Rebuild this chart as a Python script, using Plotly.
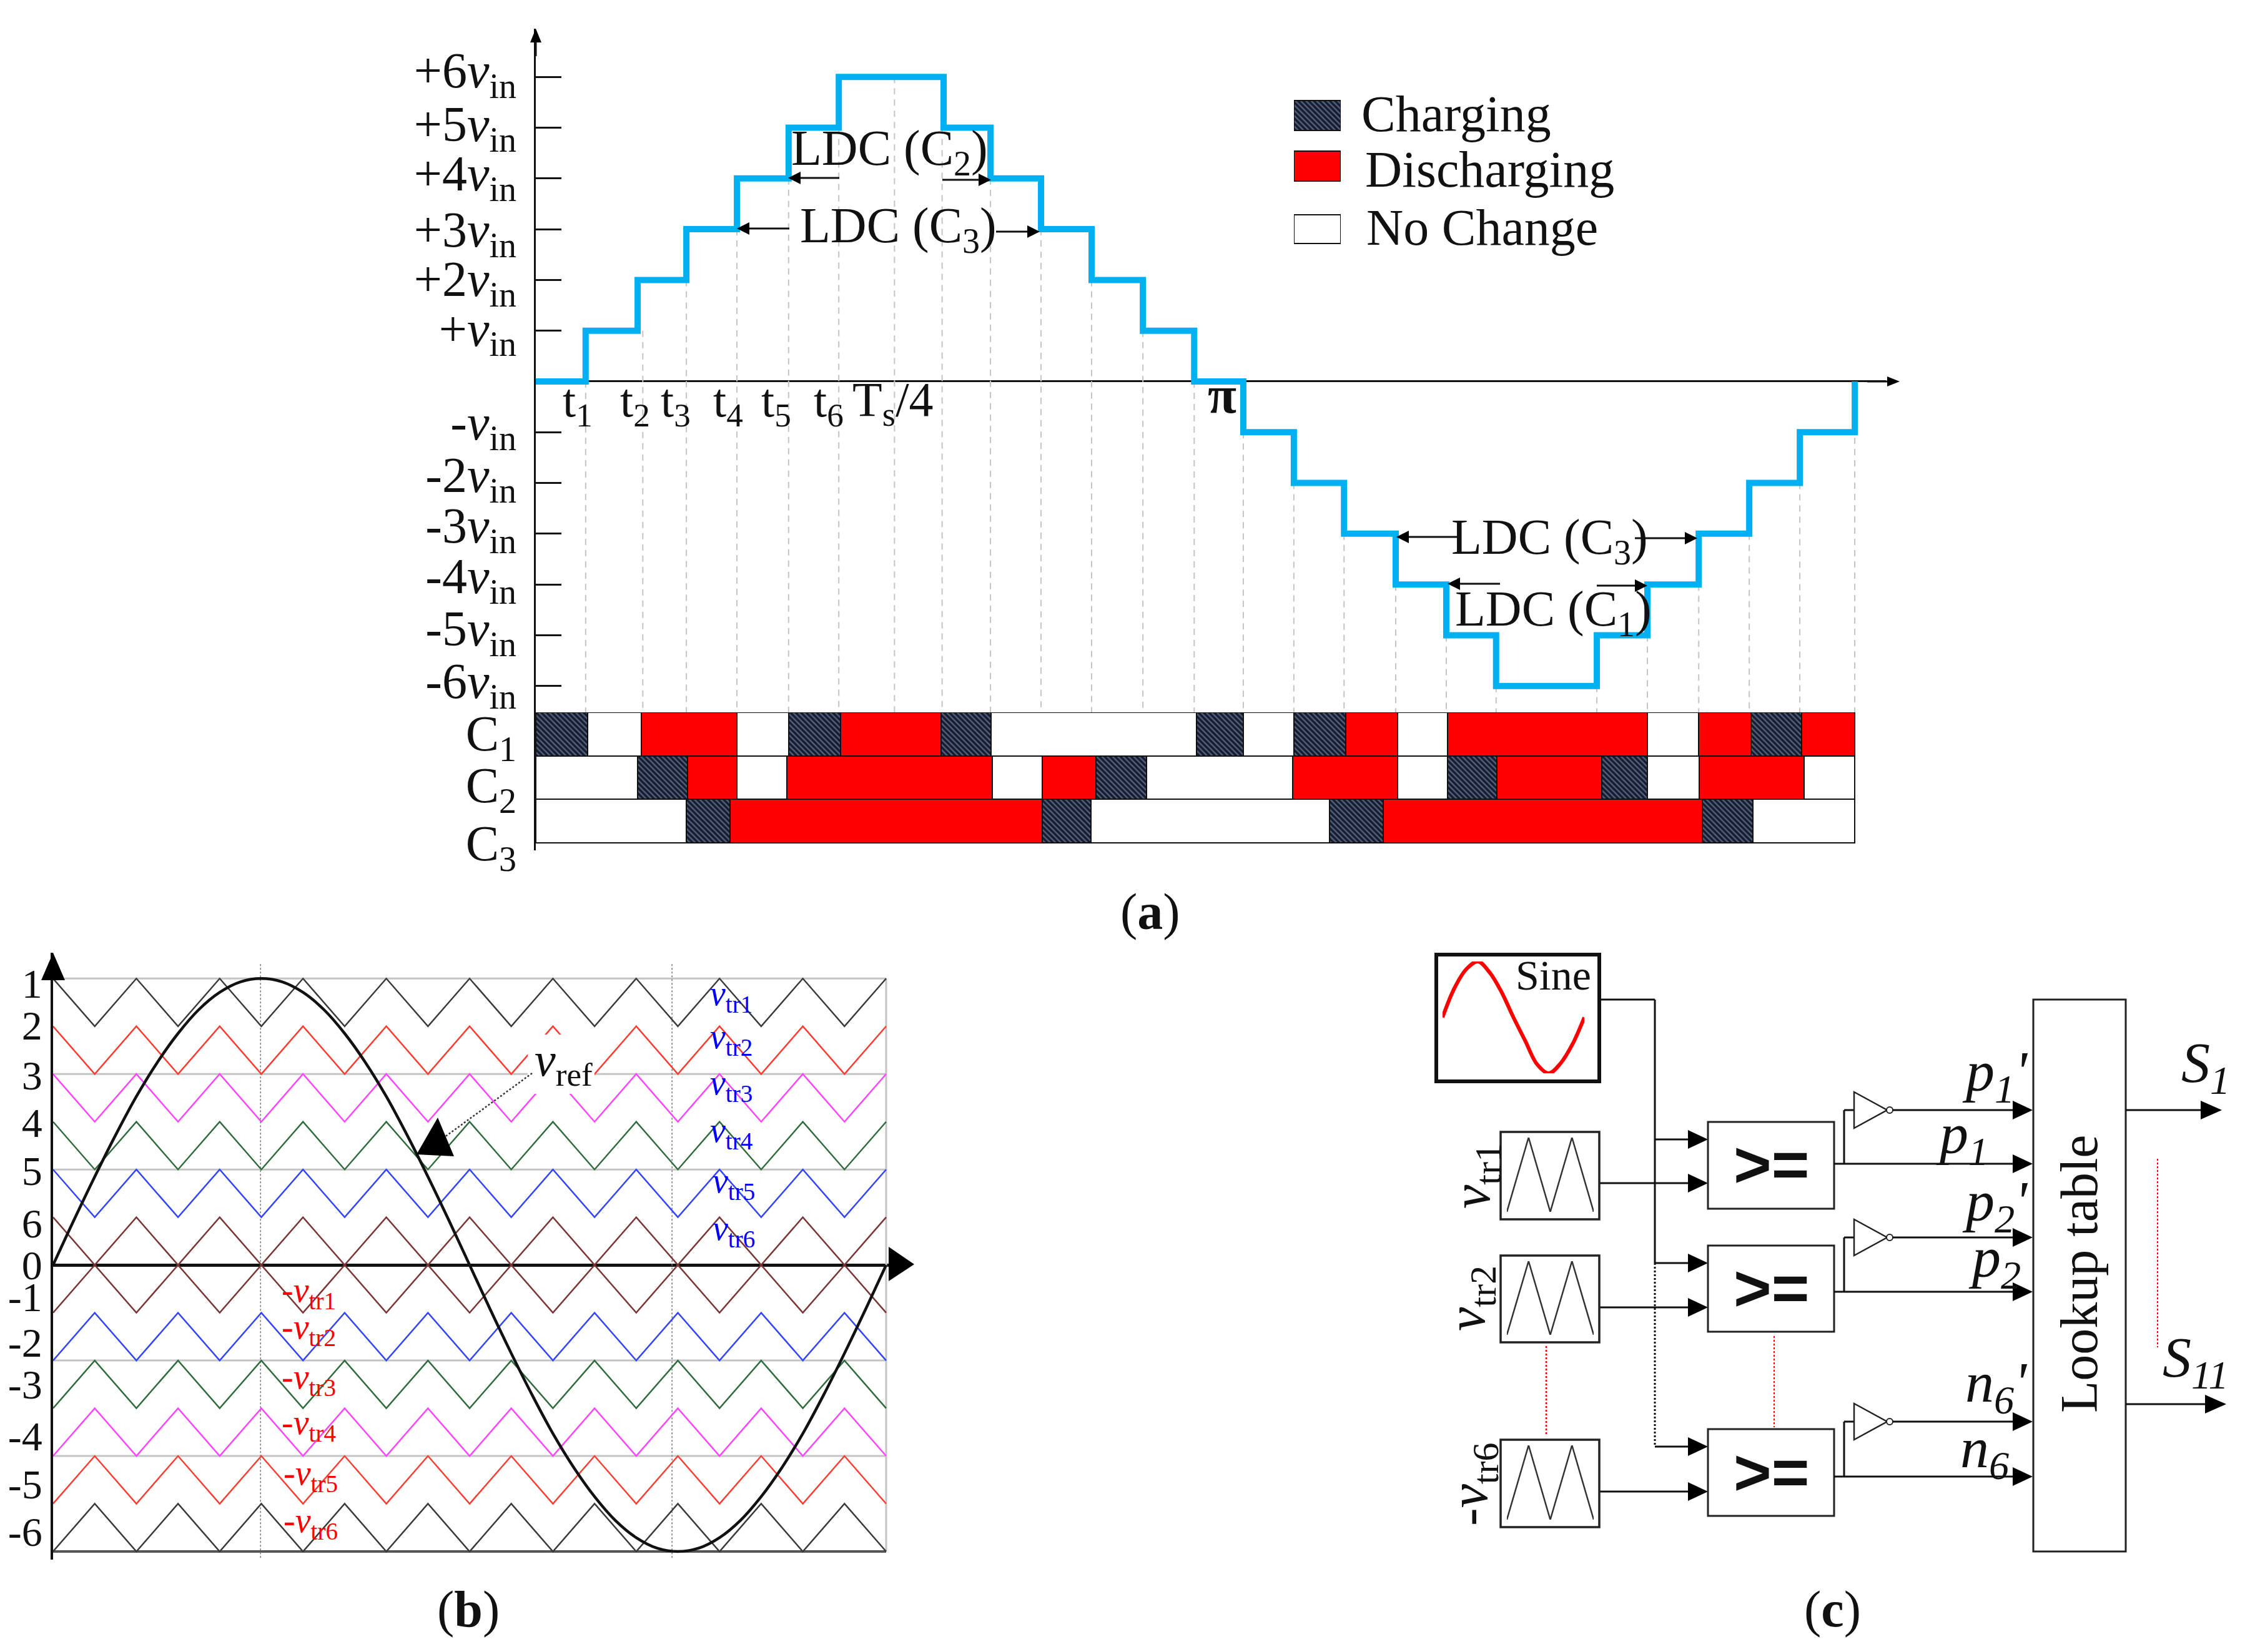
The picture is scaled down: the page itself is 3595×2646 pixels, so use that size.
import plotly.graph_objects as go

W, H = 3595, 2646
SERIF = "Liberation Serif"

# ---------- panel (a) data ----------
level_ticks = [6, 5, 4, 3, 2, 1, -1, -2, -3, -4, -5, -6]
level_label_pos = [6.14, 5.08, 4.11, 3.0, 2.03, 1.05, -0.8, -1.83, -2.83, -3.83, -4.86, -5.89]
level_labels = ["+6", "+5", "+4", "+3", "+2", "+", "-", "-2", "-3", "-4", "-5", "-6"]
stair_t = [0, 13.6, 27.8, 41.1, 54.9, 69.0, 82.7, 111.3, 124.1, 137.9, 151.7, 165.7, 179.7,
           193.1, 206.9, 220.6, 234.7, 248.5, 262.1, 289.6, 303.4, 317.4, 331.2, 345.0, 360]
stair_v = [0, 1, 2, 3, 4, 5, 6, 5, 4, 3, 2, 1, 0, -1, -2, -3, -4, -5, -6, -5, -4, -3, -2, -1, 0]
drop_t = [13.6, 29.2, 41.1, 54.9, 69.0, 82.7, 97.9, 110.9, 124.1, 137.9, 151.7, 165.7, 179.7,
          193.1, 206.9, 220.6, 234.7, 248.5, 262.1, 289.6, 303.4, 317.4, 331.2, 345.0, 360]
drop_v = [0, 1, 2, 3, 4, 5, 6, 5, 4, 3, 2, 1, 0, -1, -2, -3, -4, -5, -6, -6, -5, -4, -3, -2, 0]

C1_edges = [0, 14.1, 28.8, 54.9, 69.0, 83.2, 110.6, 124.3, 180.3, 193.1, 206.9, 221.1, 235.2,
            248.9, 303.4, 317.4, 331.7, 345.5, 360]
C1_state = ["c", "n", "d", "n", "c", "d", "c", "n", "c", "n", "c", "d", "n", "d", "n", "d", "c", "d"]
C2_edges = [0, 27.8, 41.4, 54.9, 68.5, 124.6, 138.2, 152.9, 166.7, 206.6, 235.2, 248.9, 262.3,
            291.0, 303.4, 317.5, 346.2, 360]
C2_state = ["n", "c", "d", "n", "d", "n", "d", "c", "n", "d", "n", "c", "d", "c", "n", "d", "n"]
C3_edges = [0, 41.1, 53.0, 138.2, 151.5, 216.6, 231.3, 318.4, 332.2, 360]
C3_state = ["n", "c", "d", "c", "n", "c", "d", "c", "n"]
legend_names = ["Charging", "Discharging", "No Change"]

# ---------- panel (b) data ----------
carrier_t = [0, 1, 2, 3, 4, 5, 6, 7, 8, 9, 10, 11, 12, 13, 14, 15, 16, 17, 18, 19, 20]
vtr1 = [6, 5, 6, 5, 6, 5, 6, 5, 6, 5, 6, 5, 6, 5, 6, 5, 6, 5, 6, 5, 6]
vtr2 = [5, 4, 5, 4, 5, 4, 5, 4, 5, 4, 5, 4, 5, 4, 5, 4, 5, 4, 5, 4, 5]
vtr3 = [4, 3, 4, 3, 4, 3, 4, 3, 4, 3, 4, 3, 4, 3, 4, 3, 4, 3, 4, 3, 4]
vtr4 = [3, 2, 3, 2, 3, 2, 3, 2, 3, 2, 3, 2, 3, 2, 3, 2, 3, 2, 3, 2, 3]
vtr5 = [2, 1, 2, 1, 2, 1, 2, 1, 2, 1, 2, 1, 2, 1, 2, 1, 2, 1, 2, 1, 2]
vtr6 = [1, 0, 1, 0, 1, 0, 1, 0, 1, 0, 1, 0, 1, 0, 1, 0, 1, 0, 1, 0, 1]
ntr1 = [-1, 0, -1, 0, -1, 0, -1, 0, -1, 0, -1, 0, -1, 0, -1, 0, -1, 0, -1, 0, -1]
ntr2 = [-2, -1, -2, -1, -2, -1, -2, -1, -2, -1, -2, -1, -2, -1, -2, -1, -2, -1, -2, -1, -2]
ntr3 = [-3, -2, -3, -2, -3, -2, -3, -2, -3, -2, -3, -2, -3, -2, -3, -2, -3, -2, -3, -2, -3]
ntr4 = [-4, -3, -4, -3, -4, -3, -4, -3, -4, -3, -4, -3, -4, -3, -4, -3, -4, -3, -4, -3, -4]
ntr5 = [-5, -4, -5, -4, -5, -4, -5, -4, -5, -4, -5, -4, -5, -4, -5, -4, -5, -4, -5, -4, -5]
ntr6 = [-6, -5, -6, -5, -6, -5, -6, -5, -6, -5, -6, -5, -6, -5, -6, -5, -6, -5, -6, -5, -6]
ref_t = [0, 0.5, 1, 1.5, 2, 2.5, 3, 3.5, 4, 4.5, 5, 5.5, 6, 6.5, 7, 7.5, 8, 8.5, 9, 9.5, 10,
         10.5, 11, 11.5, 12, 12.5, 13, 13.5, 14, 14.5, 15, 15.5, 16, 16.5, 17, 17.5, 18, 18.5, 19, 19.5, 20]
vref = [0, 0.94, 1.85, 2.72, 3.53, 4.24, 4.85, 5.35, 5.71, 5.93, 6, 5.93, 5.71, 5.35, 4.85, 4.24,
        3.53, 2.72, 1.85, 0.94, 0, -0.94, -1.85, -2.72, -3.53, -4.24, -4.85, -5.35, -5.71, -5.93,
        -6, -5.93, -5.71, -5.35, -4.85, -4.24, -3.53, -2.72, -1.85, -0.94, 0]
b_tick_pos = [5.9, 5.02, 3.98, 2.98, 1.98, 0.88, 0, -0.66, -1.62, -2.5, -3.58, -4.58, -5.58]
b_tick_txt = ["1", "2", "3", "4", "5", "6", "0", "-1", "-2", "-3", "-4", "-5", "-6"]
carriers = [(vtr1, "#3a3a3a"), (vtr2, "#ff3b30"), (vtr3, "#ff44ff"), (vtr4, "#2f6b3c"),
            (vtr5, "#3344ff"), (vtr6, "#7a3535"), (ntr1, "#7a3535"), (ntr2, "#3344ff"),
            (ntr3, "#2f6b3c"), (ntr4, "#ff44ff"), (ntr5, "#ff3b30"), (ntr6, "#3a3a3a")]

# ---------- panel (c) data ----------
sine_deg = [0, 30, 60, 90, 120, 150, 180, 210, 240, 270, 300, 330, 360]
sine_val = [0, 0.52, 0.86, 1, 0.8, 0.45, 0, -0.42, -0.84, -1, -0.82, -0.48, 0]
block_t = [0, 1, 2, 3, 4]
block_v = [0, 1, 0, 1, 0]


def fx(px):
    return px / W


def fy(py):
    return 1 - py / H


fig = go.Figure()
FILL = {
    "c": dict(color="#2b3650", pattern=dict(shape="\\", fgcolor="#141c30", bgcolor="#56617a", size=6, solidity=0.6)),
    "d": dict(color="#ff0000"),
    "n": dict(color="#ffffff"),
}


def bar_kwargs(state):
    m = dict(FILL[state])
    m["line"] = dict(color="#111111", width=2)
    return m


# dashed drop lines
dx, dy = [], []
for t, v in zip(drop_t, drop_v):
    dx += [t, t, None]
    dy += [v, -6.52, None]
fig.add_trace(go.Scatter(x=dx, y=dy, mode="lines", line=dict(color="#c4c4c4", width=2, dash="10px,8px"),
                         xaxis="x", yaxis="y", showlegend=False))
fig.add_trace(go.Scatter(x=stair_t, y=stair_v, mode="lines", line=dict(color="#00b0f0", width=10, shape="hv"),
                         xaxis="x", yaxis="y", name="stair", showlegend=False))

# state bars
for row, (edges, states) in zip([2, 1, 0], [(C1_edges, C1_state), (C2_edges, C2_state), (C3_edges, C3_state)]):
    for st in ["n", "c", "d"]:
        idx = [i for i, s in enumerate(states) if s == st]
        fig.add_trace(go.Bar(orientation="h", y=[row] * len(idx),
                             base=[edges[i] for i in idx],
                             x=[edges[i + 1] - edges[i] for i in idx],
                             width=1, marker=bar_kwargs(st), cliponaxis=False,
                             xaxis="x2", yaxis="y2", showlegend=False))

# legend swatches
for st, centre, th in zip(["c", "d", "n"], [185, 266, 367], [48, 48, 46]):
    fig.add_trace(go.Bar(orientation="h", y=[centre], x=[1], base=[0], width=th, marker=bar_kwargs(st),
                         cliponaxis=False, xaxis="x4", yaxis="y4", showlegend=False))

# panel b
fig.add_trace(go.Scatter(x=[0, 20, None, 0, 20, None, 0, 20, None, 0, 20, None, 0, 20, None, 20, 20],
                         y=[6, 6, None, 4, 4, None, 2, 2, None, -2, -2, None, -4, -4, None, 6, -6],
                         mode="lines", line=dict(color="#c4c4c4", width=3), xaxis="x3", yaxis="y3", showlegend=False))
fig.add_trace(go.Scatter(x=[0, 20], y=[-6, -6], mode="lines", line=dict(color="#555555", width=4),
                         xaxis="x3", yaxis="y3", showlegend=False))
fig.add_trace(go.Scatter(x=[4.98, 4.98, None, 14.86, 14.86], y=[6.3, -6.17, None, 6.3, -6.17], mode="lines",
                         line=dict(color="#777777", width=1.5, dash="3px,3px"), xaxis="x3", yaxis="y3", showlegend=False))
for vals, col in carriers:
    fig.add_trace(go.Scatter(x=carrier_t, y=vals, mode="lines", line=dict(color=col, width=2.5),
                             xaxis="x3", yaxis="y3", showlegend=False))
fig.add_trace(go.Scatter(x=ref_t, y=vref, mode="lines", line=dict(color="#111111", width=4.5, shape="spline"),
                         xaxis="x3", yaxis="y3", showlegend=False))

# panel c inner axes
fig.add_trace(go.Scatter(x=sine_deg, y=sine_val, mode="lines", line=dict(color="#ff0000", width=6, shape="spline"),
                         xaxis="x5", yaxis="y5", showlegend=False))
for n in (6, 7, 8):
    fig.add_trace(go.Scatter(x=block_t, y=block_v, mode="lines", line=dict(color="#333333", width=2.5),
                             xaxis=f"x{n}", yaxis=f"y{n}", showlegend=False))

shapes, ann = [], []


def line(x0, y0, x1, y1, color="#111111", w=3, dash=None):
    d = dict(color=color, width=w)
    if dash:
        d["dash"] = dash
    shapes.append(dict(type="line", xref="paper", yref="paper", x0=fx(x0), y0=fy(y0), x1=fx(x1), y1=fy(y1), line=d))


def poly(pts, fill="#000000", lc=None, lw=0):
    p = "M" + " L".join(f"{fx(a):.5f},{fy(b):.5f}" for a, b in pts) + " Z"
    shapes.append(dict(type="path", xref="paper", yref="paper", path=p, fillcolor=fill,
                       line=dict(color=lc or fill, width=lw)))


def rect(x0, y0, x1, y1, w=3, lc="#222222", fill=None):
    shapes.append(dict(type="rect", xref="paper", yref="paper", x0=fx(x0), y0=fy(y0), x1=fx(x1), y1=fy(y1),
                       line=dict(color=lc, width=w), fillcolor=fill or "rgba(0,0,0,0)"))


def arrow(x0, y0, x1, y1, L=24, Hw=11, w=3):
    """straight horizontal or vertical arrow ending at (x1, y1)"""
    if y0 == y1:
        s = 1 if x1 > x0 else -1
        line(x0, y0, x1 - s * L, y1, w=w)
        poly([(x1, y1), (x1 - s * L, y1 - Hw), (x1 - s * L, y1 + Hw)])
    else:
        s = 1 if y1 > y0 else -1
        line(x0, y0, x1, y1 - s * L, w=w)
        poly([(x1, y1), (x1 - Hw, y1 - s * L), (x1 + Hw, y1 - s * L)])


def text(x, y, s, size, color="#111111", anchor="center", family=SERIF, angle=0):
    ann.append(dict(xref="paper", yref="paper", x=fx(x), y=fy(y), text=s, showarrow=False, xanchor=anchor,
                    yanchor="middle", textangle=angle, font=dict(family=family, size=size, color=color)))


# ---- panel a decorations ----
arrow(858, 90, 858, 46, L=22, Hw=9)
arrow(2990, 611, 3042, 611, L=20, Hw=8)
for x0, y0, x1, y1 in [(1344, 285, 1262, 285), (1509, 288, 1587, 288), (1264, 366, 1180, 366), (1595, 371, 1665, 371),
                       (2335, 860, 2236, 860), (2618, 862, 2718, 862), (2402, 935, 2318, 935), (2557, 938, 2638, 938)]:
    arrow(x0, y0, x1, y1, L=20, Hw=10)
text(1424, 243, "LDC (C<sub>2</sub>)", 80)
text(1438, 367, "LDC (C<sub>3</sub>)", 80)
text(2481, 866, "LDC (C<sub>3</sub>)", 80)
text(2487, 981, "LDC (C<sub>1</sub>)", 80)
for i, xp in enumerate([925, 1017, 1082, 1166, 1243, 1327]):
    text(xp, 647, f"t<sub>{i + 1}</sub>", 76)
text(1430, 645, "T<sub>s</sub>/4", 78)
text(1957, 632, "<b>π</b>", 84)
text(2178, 182, "Charging", 82, anchor="left")
text(2184, 271, "Discharging", 82, anchor="left")
text(2186, 365, "No Change", 82, anchor="left")
text(1842, 1460, "(<b>a</b>)", 82)

# ---- panel b decorations ----
poly([(85, 1526), (66, 1570), (104, 1570)])
poly([(1464, 2025), (1423, 1997), (1423, 2052)])
rect(845, 1657, 952, 1752, w=0, lc="#ffffff", fill="#ffffff")
line(852, 1719, 700, 1830, color="#333333", w=2.5, dash="3px,3px")
poly([(701, 1790), (727, 1852), (667, 1849)])
text(854, 1703, "<i>v</i><sub>ref</sub>", 76, anchor="left")
for yy, i, xp in zip([1595, 1664, 1738, 1814, 1895, 1971], range(1, 7), [1135, 1135, 1135, 1135, 1139, 1139]):
    text(xp, yy, f"<i>v</i><sub>tr{i}</sub>", 56, color="#0000ff", anchor="left")
for yy, i, xp in zip([2070, 2129, 2209, 2282, 2363, 2439], range(1, 7), [449, 449, 449, 449, 452, 452]):
    text(xp, yy, f"-<i>v</i><sub>tr{i}</sub>", 56, color="#ff0000", anchor="left")
text(750, 2577, "(<b>b</b>)", 82)

# ---- panel c decorations ----
rect(2300, 1529, 2561, 1732, w=6, lc="#111111")
text(2487, 1562, "Sine", 68)
line(2561, 1601, 2650, 1601)
line(2650, 1601, 2650, 2023)
line(2650, 2023, 2650, 2317, w=3, dash="3px,3px")
for yy in (1825, 2023, 2317):
    arrow(2650, yy, 2735, yy, L=32, Hw=15)
for yy in (1895, 2094, 2389):
    arrow(2561, yy, 2735, yy, L=32, Hw=15)
for y0, y1 in [(1813, 1953), (2011, 2150), (2306, 2446)]:
    rect(2403, y0, 2561, y1, w=3.5)
for y0, y1, yc in [(1797, 1936, 1865), (1995, 2133, 2063), (2289, 2428, 2358)]:
    rect(2735, y0, 2937, y1, w=3)
    text(2836, yc, "<b>&gt;=</b>", 104, family="Liberation Sans")
for out, inv in [(1864, 1778), (2069, 1982), (2365, 2277)]:
    arrow(2937, out, 3255, out, L=32, Hw=15)
    line(2953, out, 2953, inv)
    line(2953, inv, 2969, inv)
    poly([(2969, inv - 29), (2969, inv + 29), (3022, inv)], fill="#ffffff", lc="#222222", lw=2.5)
    shapes.append(dict(type="circle", xref="paper", yref="paper", x0=fx(3021), x1=fx(3031), y0=fy(inv - 5), y1=fy(inv + 5),
                       line=dict(color="#222222", width=2), fillcolor="#ffffff"))
    arrow(3031, inv, 3255, inv, L=32, Hw=15)
rect(3256, 1601, 3404, 2485, w=3)
text(3329, 2040, "Lookup table", 84, angle=-90)
arrow(3404, 1778, 3558, 1778, L=34, Hw=15)
arrow(3404, 2249, 3565, 2249, L=34, Hw=15)
line(3455, 1856, 3455, 2158, color="#ff0000", w=2, dash="3px,3px")
line(2476, 2156, 2476, 2300, color="#ff0000", w=2.5, dash="3px,3px")
line(2841, 2140, 2841, 2286, color="#ff0000", w=2, dash="3px,3px")
text(3194, 1722, "<i>p<sub>1</sub>'</i>", 92)
text(3142, 1822, "<i>p<sub>1</sub></i>", 92)
text(3194, 1930, "<i>p<sub>2</sub>'</i>", 92)
text(3194, 2020, "<i>p<sub>2</sub></i>", 92)
text(3196, 2220, "<i>n<sub>6</sub>'</i>", 92)
text(3178, 2325, "<i>n<sub>6</sub></i>", 92)
text(3532, 1708, "<i>S<sub>1</sub></i>", 92)
text(3516, 2180, "<i>S<sub>11</sub></i>", 92)
text(2362, 1884, "<i>v</i><sub>tr1</sub>", 86, angle=-90)
text(2354, 2080, "<i>v</i><sub>tr2</sub>", 86, angle=-90)
text(2358, 2377, "-<i>v</i><sub>tr6</sub>", 86, angle=-90)
text(2934, 2577, "(<b>c</b>)", 82)


def dom_x(a, b):
    return [a / W, b / W]


def dom_y(top, bottom):
    return [1 - bottom / H, 1 - top / H]


fig.update_layout(
    template="none",
    width=W, height=H, margin=dict(l=0, r=0, t=0, b=0, pad=0, autoexpand=False),
    paper_bgcolor="#ffffff", plot_bgcolor="#ffffff",
    barmode="overlay", bargap=0, showlegend=False, shapes=shapes, annotations=ann,
    font=dict(family=SERIF, color="#111111"),
    xaxis=dict(domain=dom_x(858, 3020), range=[0, (3020 - 858) / 5.867], visible=False, anchor="y"),
    yaxis=dict(domain=dom_y(46, 1141), range=[-6.52, 6.95], anchor="x", showgrid=False, zeroline=True,
               zerolinecolor="#111111", zerolinewidth=3, showline=True, linecolor="#111111", linewidth=3,
               ticks="", tickmode="array", tickvals=level_label_pos,
               ticktext=[f"{s}<i>v</i><sub>in</sub>" for s in level_labels],
               minor=dict(tickmode="array", tickvals=level_ticks, ticks="inside", ticklen=41, tickwidth=3,
                          tickcolor="#111111", showgrid=False),
               tickfont=dict(family=SERIF, size=80, color="#111111"), ticklabelstandoff=12),
    xaxis2=dict(domain=dom_x(858, 3020), range=[0, (3020 - 858) / 5.867], visible=False, anchor="y2"),
    yaxis2=dict(domain=dom_y(1141, 1362), range=[-0.67, 2.5], anchor="x2", showgrid=False, zeroline=False,
                showline=True, linecolor="#111111", linewidth=3, ticks="", tickvals=[2.03, 0.83, -0.5],
                ticktext=["C<sub>1</sub>", "C<sub>2</sub>", "C<sub>3</sub>"],
                tickfont=dict(family=SERIF, size=80, color="#111111"), ticklabelstandoff=12),
    xaxis3=dict(domain=dom_x(85, 1423), range=[0, (1423 - 85) / 66.7], visible=False, anchor="y3"),
    yaxis3=dict(domain=dom_y(1526, 2498), range=[-6.17, 6.54], anchor="x3", showgrid=False, zeroline=True,
                zerolinecolor="#111111", zerolinewidth=5, showline=True, linecolor="#111111", linewidth=4, ticks="",
                tickvals=b_tick_pos, ticktext=b_tick_txt, tickfont=dict(family=SERIF, size=66, color="#111111")),
    xaxis4=dict(domain=dom_x(2072, 2147), range=[0, 1], visible=False, anchor="y4"),
    yaxis4=dict(domain=dom_y(155, 395), range=[395, 155], visible=False, anchor="x4"),
    xaxis5=dict(domain=dom_x(2310, 2537), range=[0, 360], visible=False, anchor="y5"),
    yaxis5=dict(domain=dom_y(1540, 1719), range=[-1, 1], visible=False, anchor="x5"),
    xaxis6=dict(domain=dom_x(2413, 2552), range=[0, 4], visible=False, anchor="y6"),
    yaxis6=dict(domain=dom_y(1822, 1941), range=[0, 1], visible=False, anchor="x6"),
    xaxis7=dict(domain=dom_x(2413, 2552), range=[0, 4], visible=False, anchor="y7"),
    yaxis7=dict(domain=dom_y(2020, 2138), range=[0, 1], visible=False, anchor="x7"),
    xaxis8=dict(domain=dom_x(2413, 2552), range=[0, 4], visible=False, anchor="y8"),
    yaxis8=dict(domain=dom_y(2315, 2434), range=[0, 1], visible=False, anchor="x8"),
)

fig.write_html("out.html", config=dict(displayModeBar=False),
               post_script="document.body.style.margin='0';document.body.style.overflow='hidden';")
